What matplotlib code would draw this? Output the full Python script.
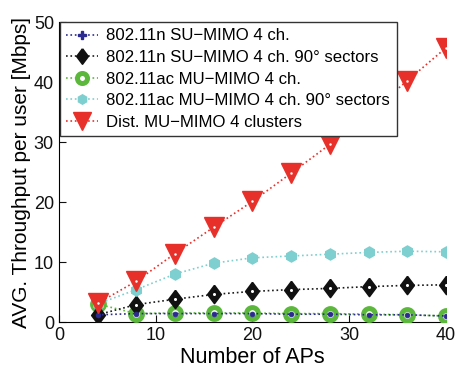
import matplotlib
matplotlib.use("Agg")
import matplotlib.pyplot as plt

plt.rcParams['font.family'] = ['Liberation Sans', 'DejaVu Sans']

aps = [4, 8, 12, 16, 20, 24, 28, 32, 36, 40]
su_mimo = [1.2, 1.4, 1.4, 1.4, 1.4, 1.3, 1.3, 1.2, 1.2, 1.0]
su_mimo_sect = [1.2, 2.9, 3.8, 4.6, 5.1, 5.4, 5.6, 5.9, 6.1, 6.2]
mu_mimo = [3.0, 1.4, 1.5, 1.5, 1.5, 1.4, 1.4, 1.3, 1.2, 1.0]
mu_mimo_sect = [3.0, 5.4, 8.0, 9.8, 10.7, 11.0, 11.3, 11.6, 11.8, 11.7]
dist_mu = [3.1, 6.8, 11.4, 15.8, 20.1, 24.8, 29.6, 34.8, 40.2, 45.7]

labels = ["802.11n SU\u2212MIMO 4 ch.",
          "802.11n SU\u2212MIMO 4 ch. 90\u00b0 sectors",
          "802.11ac MU\u2212MIMO 4 ch.",
          "802.11ac MU\u2212MIMO 4 ch. 90\u00b0 sectors",
          "Dist. MU\u2212MIMO 4 clusters"]

diamond = [(0, 1), (0.75, 0), (0, -1), (-0.75, 0), (0, 1)]

fig = plt.figure(figsize=(4.56, 3.67), dpi=100)
ax = fig.add_axes([0.129, 0.1226, 0.849, 0.8174])

l_green, = ax.plot(aps, mu_mimo, ':', color='#5cb83c', lw=1.2, marker='o', ms=8.5,
                   mfc='white', mec='#5cb83c', mew=3.6, label=labels[2], zorder=3)
l_blue, = ax.plot(aps, su_mimo, ':', color='#2b2b8f', lw=1.2, marker='o', ms=3.5,
                  mfc='#2b2b8f', mec='#2b2b8f', mew=0.5, label=labels[0], zorder=4)
l_black, = ax.plot(aps, su_mimo_sect, ':', color='#1a1a1a', lw=1.2, marker=diamond,
                   ms=13, mfc='#111111', mec='#111111', mew=1.2, label=labels[1],
                   zorder=3)
ax.plot(aps, su_mimo_sect, ls='none', marker='o', ms=2.2, mfc='white', mec='white',
        mew=0, zorder=3.5)
l_cyan, = ax.plot(aps, mu_mimo_sect, ':', color='#7ecfcf', lw=1.2, marker='h', ms=8,
                  mfc='#7ecfcf', mec='#7ecfcf', mew=1.0, label=labels[3], zorder=3)
l_red, = ax.plot(aps, dist_mu, ':', color='#e8302a', lw=1.2, marker='v', ms=14.5,
                 mfc='#e8302a', mec='#e8302a', mew=1, label=labels[4], zorder=5)
ax.plot(aps, dist_mu, ls='none', marker='o', ms=1.8, mfc='white', mec='white',
        mew=0, zorder=5.5)

ax.set_xlim(0, 40)
ax.set_ylim(0, 50)
ax.set_xticks([0, 10, 20, 30, 40])
ax.set_yticks([0, 10, 20, 30, 40, 50])
ax.spines['top'].set_visible(False)
ax.spines['right'].set_visible(False)
ax.tick_params(direction='in', labelsize=13, length=5, colors='#111111')
ax.set_xlabel('Number of APs', fontsize=15.5, labelpad=2)
ax.set_ylabel('AVG. Throughput per user [Mbps]', fontsize=15, labelpad=2)

blue_leg = plt.Line2D([], [], ls=':', color='#2b2b8f', lw=1.2, marker='P', ms=7,
                      mfc='#2b2b8f', mec='#2b2b8f')
handles = [blue_leg, l_black, l_green, l_cyan, l_red]
leg = ax.legend(handles, [labels[0], labels[1], labels[2], labels[3], labels[4]],
                loc='upper left', fontsize=12.1, frameon=True, fancybox=False,
                edgecolor='#333333', framealpha=1.0, borderpad=0.38,
                labelspacing=0.39, handlelength=1.9, handletextpad=0.48,
                borderaxespad=0.0, markerscale=0.85, bbox_to_anchor=(0.003, 1.0))
leg.set_zorder(10)
leg.get_frame().set_linewidth(1.0)

fig.savefig('out.png', dpi=100)
